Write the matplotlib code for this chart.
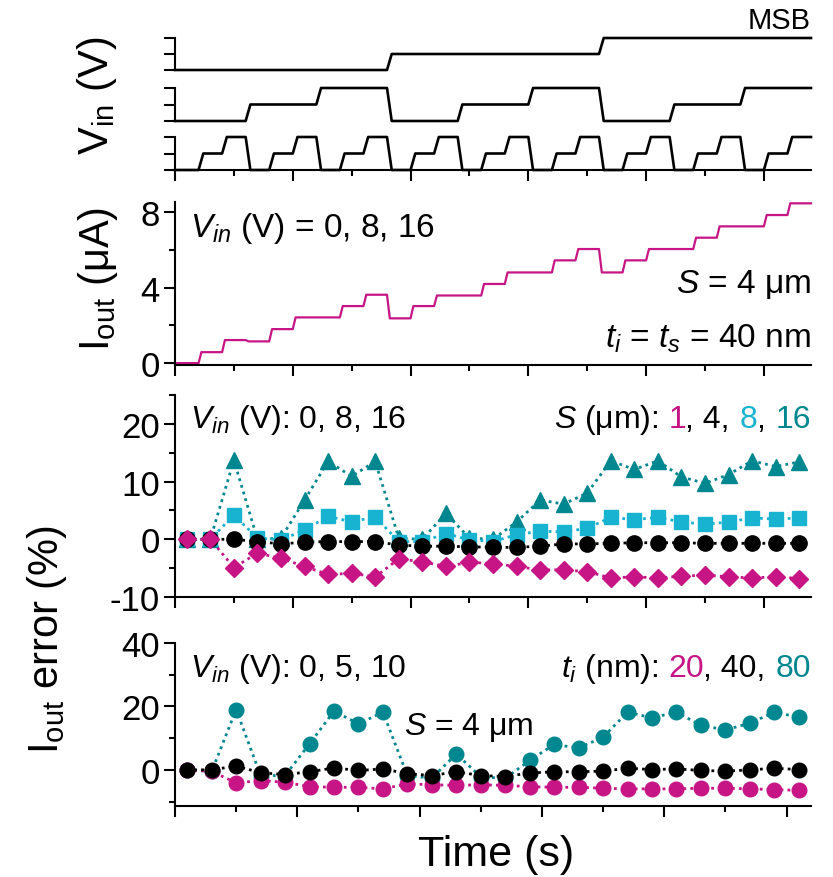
import matplotlib
matplotlib.use('Agg')
import matplotlib.pyplot as plt
from matplotlib.ticker import MultipleLocator, NullFormatter
import numpy as np

plt.rcParams['font.family'] = ['Liberation Sans', 'DejaVu Sans']
plt.rcParams['mathtext.fontset'] = 'custom'
plt.rcParams['mathtext.rm'] = 'Liberation Sans'
plt.rcParams['mathtext.it'] = 'Liberation Sans:italic'
plt.rcParams['axes.unicode_minus'] = False

MAGENTA = '#C71585'
CYAN = '#17B3D1'
TEAL = '#00878F'

# input voltages (V) per time step, MSB to LSB
vin_msb = [0, 0, 0, 0, 0, 0, 0, 0, 0, 8, 8, 8, 8, 8, 8, 8, 8, 8,
           16, 16, 16, 16, 16, 16, 16, 16, 16]
vin_mid = [0, 0, 0, 8, 8, 8, 16, 16, 16, 0, 0, 0, 8, 8, 8, 16, 16, 16,
           0, 0, 0, 8, 8, 8, 16, 16, 16]
vin_lsb = [0, 8, 16, 0, 8, 16, 0, 8, 16, 0, 8, 16, 0, 8, 16, 0, 8, 16,
           0, 8, 16, 0, 8, 16, 0, 8, 16]

# output current (uA) per time step
iout = [0.0, 0.58, 1.22, 1.15, 1.80, 2.42, 2.42, 3.02, 3.62, 2.37, 3.02,
        3.58, 3.58, 4.19, 4.80, 4.80, 5.44, 6.04, 4.80, 5.44, 6.04, 6.04,
        6.64, 7.24, 7.24, 7.84, 8.46]

# output current error (%) for different S (um)
err_s1 = [0.0, 0.0, -4.9, -2.4, -3.3, -4.7, -6.1, -5.9, -6.5, -3.4, -3.9,
          -4.7, -4.0, -4.2, -4.7, -5.3, -5.3, -5.6, -6.7, -6.5, -6.7, -6.4,
          -6.2, -6.5, -6.7, -6.5, -6.8]
err_s4 = [0.0, 0.0, 0.0, -0.4, -0.8, -0.5, -0.4, -0.4, -0.4, -1.0, -1.2,
          -1.2, -1.3, -1.4, -1.4, -1.2, -0.8, -0.8, -0.7, -0.6, -0.6, -0.6,
          -0.7, -0.7, -0.7, -0.7, -0.7]
err_s8 = [0.0, 0.0, 4.2, 0.2, -0.1, 1.6, 4.0, 3.0, 3.9, -0.4, -0.4,
          1.0, -0.1, -0.4, 0.8, 1.4, 1.3, 1.9, 3.8, 3.4, 3.8, 3.0,
          2.6, 3.0, 3.7, 3.5, 3.7]
err_s16 = [0.0, 0.0, 13.7, 0.0, 0.2, 6.8, 13.5, 10.9, 13.5, 0.2, 0.0,
           4.5, 0.2, 0.0, 3.0, 6.8, 6.1, 8.0, 13.6, 12.1, 13.6, 10.8,
           9.7, 11.2, 13.6, 12.6, 13.4]

# output current error (%) for different t_i (nm)
err_t20 = [0.0, -0.5, -4.1, -3.4, -3.9, -5.3, -5.5, -5.5, -6.0, -4.4, -4.7,
           -4.9, -4.7, -4.9, -5.3, -5.5, -5.5, -5.8, -6.0, -6.0, -6.0, -5.8,
           -5.8, -6.0, -6.2, -6.5]
err_t40 = [0.0, 0.0, 1.2, -0.9, -1.5, -0.6, 0.6, -0.2, 0.3, -1.2, -1.8,
           -0.6, -1.8, -2.1, -1.0, -0.6, -0.6, -0.4, 0.5, 0.1, 0.3, -0.2,
           -0.4, 0.0, 0.5, 0.1]
err_t80 = [0.0, -0.5, 19.0, -1.8, -1.8, 8.2, 18.5, 14.5, 18.2, -1.8, -2.6,
           5.0, -2.2, -2.7, 3.0, 8.0, 6.9, 10.3, 18.2, 16.4, 18.2, 14.0,
           12.6, 14.7, 18.2, 16.6]

W, H = 833, 878
fig = plt.figure(figsize=(W / 100, H / 100), dpi=100)

TICK_FS = 25
ANN_FS = 23
LABEL_FS = 30


def px_axes(x0, y_top, x1, y_bot):
    return fig.add_axes([x0 / W, 1 - y_bot / H, (x1 - x0) / W, (y_bot - y_top) / H])


def staircase(levels, ramp=0.15):
    # piecewise waveform with short slanted edges between time steps
    t = [0.0]
    y = [levels[0]]
    for k, lev in enumerate(levels):
        if k > 0:
            t.append(k + ramp)
            y.append(lev)
        t.append(k + 1.0)
        y.append(lev)
    return np.array(t), np.array(y)


def style(ax, xaxis=True):
    for side in ('top', 'right'):
        ax.spines[side].set_visible(False)
    for side in ('left', 'bottom'):
        ax.spines[side].set_linewidth(1.5)
    ax.tick_params(which='major', direction='out', length=8, width=1.5,
                   labelsize=TICK_FS, pad=3)
    ax.tick_params(which='minor', direction='out', length=4.5, width=1.5)
    if xaxis:
        ax.xaxis.set_major_locator(MultipleLocator(5))
        ax.xaxis.set_minor_locator(MultipleLocator(2.5))
        ax.xaxis.set_major_formatter(NullFormatter())
    else:
        ax.spines['bottom'].set_visible(False)
        ax.set_xticks([])


def color_text(ax, x, y, pieces, size):
    # right-aligned text made of differently coloured pieces
    renderer = fig.canvas.get_renderer()

    def width(s):
        t = ax.text(0, 0, s, fontsize=size)
        w = t.get_window_extent(renderer).width
        t.remove()
        return w

    full = ''.join(p for p, _ in pieces)
    total = width(full)
    prefix = ''
    for p, c in pieces:
        prefix += p
        shift = total - width(prefix.rstrip())
        tr = ax.transAxes + matplotlib.transforms.Affine2D().translate(-shift, 0)
        ax.text(x, y, p.rstrip(), fontsize=size, color=c, transform=tr,
                ha='right', va='baseline')


# ---- input voltage traces ----
trace_pos = [(39, 71), (89, 122), (138, 171)]
for (top, bot), vin in zip(trace_pos, [vin_msb, vin_mid, vin_lsb]):
    ax = px_axes(175, top, 811, bot)
    t, v = staircase(vin, ramp=0.2)
    ax.plot(t, v, color='black', lw=1.9, clip_on=False)
    ax.set_xlim(0, 27)
    ax.set_ylim(0, 16)
    ax.set_yticks([0, 8, 16])
    ax.yaxis.set_major_formatter(NullFormatter())
    style(ax, xaxis=(vin is vin_lsb))
    if vin is vin_msb:
        ax.text(27, 18, 'MSB', fontsize=21, ha='right', va='bottom')

# ---- output current ----
ax2 = px_axes(175, 203, 811, 366)
t, i = staircase(iout, ramp=0.12)
ax2.plot(t, i, color=MAGENTA, lw=1.6, clip_on=False)
ax2.set_xlim(0, 27)
ax2.set_ylim(-0.1, 8.53)
ax2.yaxis.set_major_locator(MultipleLocator(4))
ax2.yaxis.set_minor_locator(MultipleLocator(2))
style(ax2)
ax2.text(0.024, 0.79, r'$V_{in}$ (V) = 0, 8, 16', transform=ax2.transAxes,
         fontsize=ANN_FS + 1, va='baseline')
ax2.text(1.0, 0.45, r'$S$ = 4 μm', transform=ax2.transAxes,
         fontsize=ANN_FS + 1, ha='right', va='baseline')
ax2.text(1.0, 0.11, r'$t_i$ = $t_s$ = 40 nm', transform=ax2.transAxes,
         fontsize=ANN_FS + 1, ha='right', va='baseline')

# ---- error vs S ----
ax3 = px_axes(175, 396, 811, 598)
x3 = np.arange(len(err_s4)) + 0.5
dot = (0, (1, 1.5))
ax3.plot(x3, err_s16, ls=dot, lw=2, color=TEAL, marker='^', ms=12,
         clip_on=False, zorder=2)
ax3.plot(x3, err_s8, ls=dot, lw=2, color=CYAN, marker='s', ms=9.5,
         clip_on=False, zorder=3)
ax3.plot(x3, err_s4, ls=dot, lw=2, color='black', marker='o', ms=11,
         clip_on=False, zorder=4)
ax3.plot(x3, err_s1, ls=dot, lw=2, color=MAGENTA, marker='D', ms=9,
         clip_on=False, zorder=5)
ax3.set_xlim(0, 27)
ax3.set_ylim(-10, 25)
ax3.yaxis.set_major_locator(MultipleLocator(10))
ax3.yaxis.set_minor_locator(MultipleLocator(5))
style(ax3)
ax3.text(0.024, 0.84, r'$V_{in}$ (V): 0, 8, 16', transform=ax3.transAxes,
         fontsize=ANN_FS, va='baseline')
color_text(ax3, 1.0, 0.84, [(r'$S$ (μm): ', 'black'), ('1', MAGENTA),
                            (', 4, ', 'black'), ('8', CYAN), (', ', 'black'),
                            ('16', TEAL)], ANN_FS)

# ---- error vs t_i ----
ax4 = px_axes(175, 644, 811, 807)
x4 = np.arange(len(err_t40)) + 0.5
ax4.plot(x4, err_t80, ls=dot, lw=2, color=TEAL, marker='o', ms=10.5,
         clip_on=False, zorder=2)
ax4.plot(x4, err_t20, ls=dot, lw=2, color=MAGENTA, marker='o', ms=10.5,
         clip_on=False, zorder=3)
ax4.plot(x4, err_t40, ls=dot, lw=2, color='black', marker='o', ms=10.5,
         clip_on=False, zorder=4)
ax4.set_xlim(0, 26)
ax4.set_ylim(-11.4, 40)
ax4.yaxis.set_major_locator(MultipleLocator(20))
ax4.yaxis.set_minor_locator(MultipleLocator(10))
style(ax4)
ax4.text(0.024, 0.80, r'$V_{in}$ (V): 0, 5, 10', transform=ax4.transAxes,
         fontsize=ANN_FS, va='baseline')
color_text(ax4, 1.0, 0.80, [(r'$t_i$ (nm): ', 'black'), ('20', MAGENTA),
                            (', 40, ', 'black'), ('80', TEAL)], ANN_FS)
ax4.text(0.36, 0.44, r'$S$ = 4 μm', transform=ax4.transAxes,
         fontsize=ANN_FS, va='baseline')

# ---- axis labels ----
fig.text(97 / W, 1 - 96 / H, r'V$_\mathrm{in}$ (V)', rotation=90,
         ha='center', va='center', fontsize=LABEL_FS)
fig.text(98 / W, 1 - 279 / H, r'I$_\mathrm{out}$ (μA)', rotation=90,
         ha='center', va='center', fontsize=LABEL_FS)
fig.text(47 / W, 1 - 640 / H, r'I$_\mathrm{out}$ error (%)', rotation=90,
         ha='center', va='center', fontsize=LABEL_FS)
fig.text(496 / W, 1 - 855 / H, 'Time (s)', ha='center', va='center',
         fontsize=LABEL_FS + 1)

fig.savefig('out.png', dpi=100)
